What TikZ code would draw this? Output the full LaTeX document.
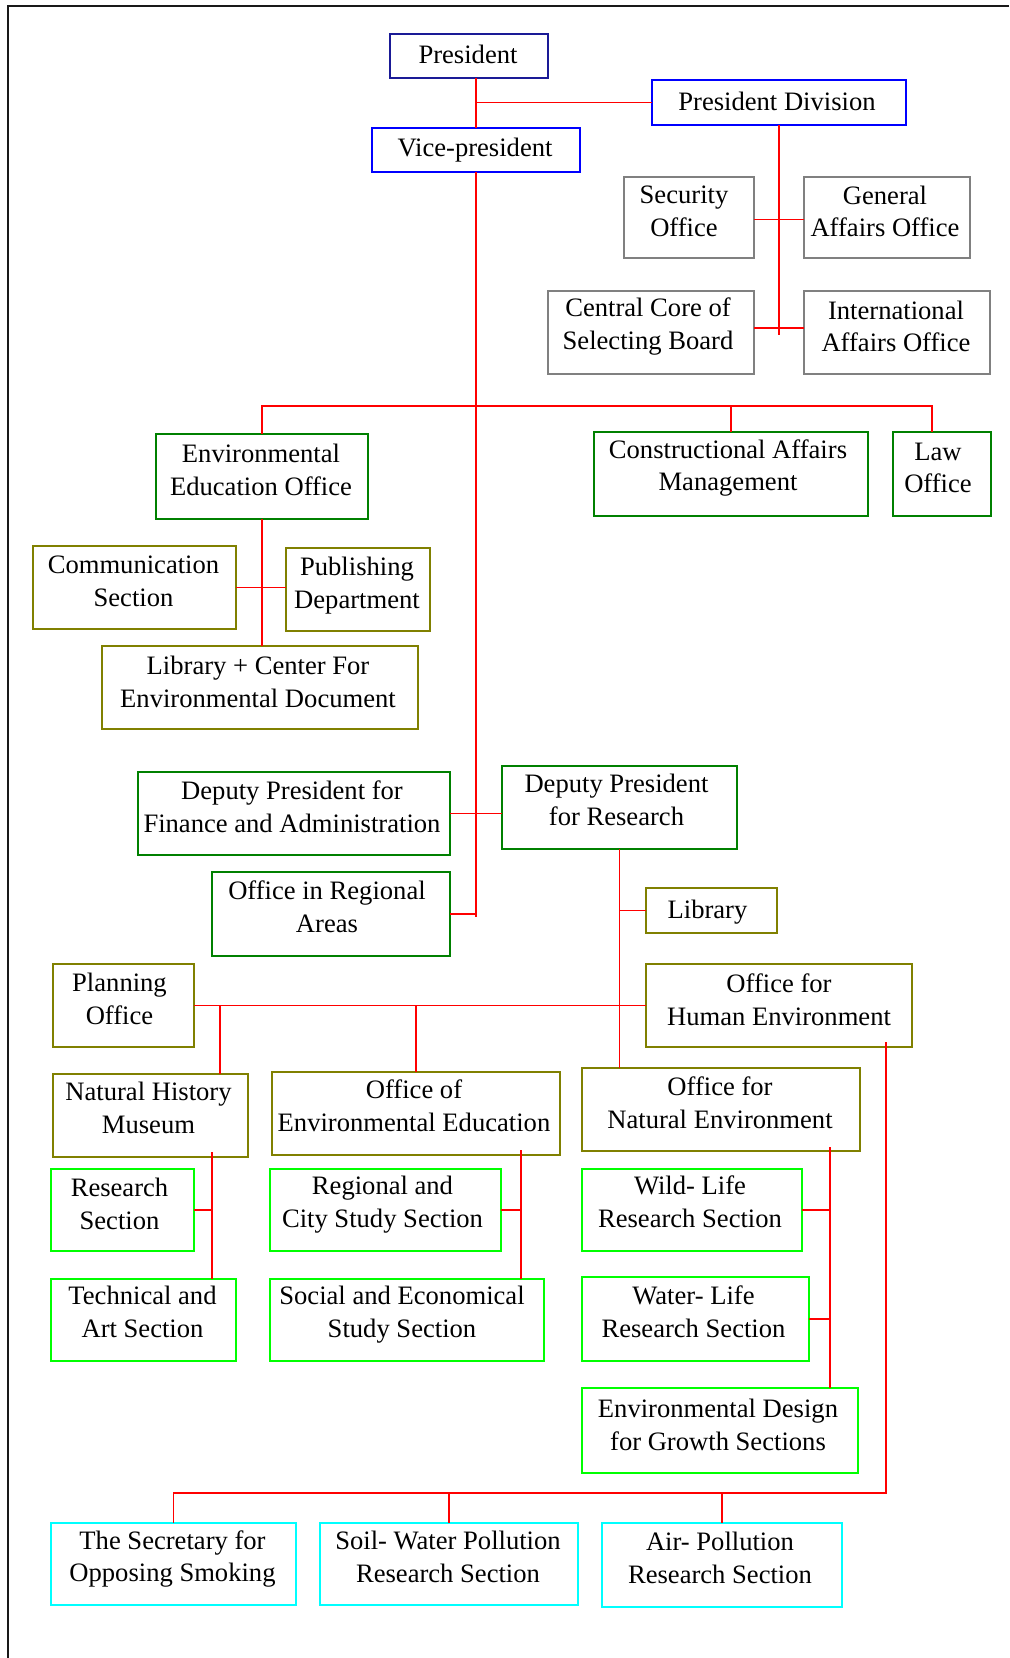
\documentclass[tikz,border=0pt]{standalone}
\usepackage{fontspec}
\setmainfont{Liberation Serif}
\definecolor{navyb}{RGB}{26,26,150}
\definecolor{blueb}{RGB}{0,0,255}
\definecolor{grayb}{RGB}{128,128,128}
\definecolor{dgreen}{RGB}{0,128,0}
\definecolor{oliveb}{RGB}{128,128,0}
\definecolor{lgreen}{RGB}{0,255,0}
\definecolor{cyanb}{RGB}{0,255,255}
\tikzset{
  boxbase/.style={rectangle, inner sep=0pt, outer sep=0pt, line width=1pt},
  navybox/.style={boxbase, draw=navyb},
  bluebox/.style={boxbase, draw=blueb},
  graybox/.style={boxbase, draw=grayb},
  dgbox/.style={boxbase, draw=dgreen},
  olbox/.style={boxbase, draw=oliveb},
  lgbox/.style={boxbase, draw=lgreen},
  cybox/.style={boxbase, draw=cyanb},
  txt/.style={inner sep=0pt, align=center, font=\fontsize{13.3}{16.4}\selectfont},
  conn/.style={draw=red, line width=0.9pt},
  frameline/.style={draw=black!90, line width=1pt}
}
\newcommand\obox[8][xshift=-1.5pt,yshift=3pt]{%
  \node[#3, minimum width={(#6-#4)*0.5pt}, minimum height={(#7-#5)*0.5pt}] (#2) at ({(#4+#6)/2},{(#5+#7)/2}) {};
  \node[txt] (#2-t) at ([#1]#2.center) {#8};
}
\begin{document}
\begin{tikzpicture}[x=0.5pt,y=-0.5pt]
\useasboundingbox (0,0) rectangle (1009,1658);
\draw[frameline] (1009,6) -- (8,6) -- (8,1658);

\obox[xshift=-0.5pt,yshift=1pt]{Pres}{navybox}{390}{34}{548}{78}{President}
\obox[xshift=-1pt,yshift=0.5pt]{PD}{bluebox}{652}{80}{906}{125}{President Division}
\obox[xshift=-0.5pt,yshift=0pt]{VP}{bluebox}{372}{128}{580}{172}{Vice-president}
\obox[xshift=-2.5pt,yshift=3pt]{Sec}{graybox}{624}{177}{754}{258}{Security\\Office}
\obox[xshift=-1pt,yshift=3pt]{Gen}{graybox}{804}{177}{970}{258}{General\\Affairs Office}
\obox[xshift=-1.5pt,yshift=3pt]{Cen}{graybox}{548}{291}{754}{374}{Central Core of\\Selecting Board}
\obox[xshift=-0.5pt,yshift=3pt]{Int}{graybox}{804}{291}{990}{374}{International\\Affairs Office}
\obox[xshift=-0.5pt,yshift=3.5pt]{EEO}{dgbox}{156}{434}{368}{519}{Environmental\\Education Office}
\obox{Con}{dgbox}{594}{432}{868}{516}{Constructional Affairs\\Management}
\obox[xshift=-2pt,yshift=3pt]{Law}{dgbox}{893}{432}{991}{516}{Law\\Office}
\obox[xshift=-0.5pt,yshift=3pt]{Comm}{olbox}{33}{546}{236}{629}{Communication\\Section}
\obox[xshift=-0.5pt,yshift=2pt]{Pub}{olbox}{286}{548}{430}{631}{Publishing\\Department}
\obox[xshift=-1pt,yshift=3pt]{LibC}{olbox}{102}{646}{418}{729}{Library + Center For\\Environmental Document}
\obox[xshift=-1pt,yshift=3.5pt]{DPF}{dgbox}{138}{772}{450}{855}{Deputy President for\\Finance and Administration}
\obox[xshift=-1.5pt,yshift=4pt]{DPR}{dgbox}{502}{766}{737}{849}{Deputy President\\for Research}
\obox[xshift=-2pt,yshift=3.5pt]{ORA}{dgbox}{212}{872}{450}{956}{Office in Regional\\Areas}
\obox[xshift=-2pt,yshift=-1pt]{Lib}{olbox}{646}{888}{777}{933}{Library}
\obox[xshift=-2pt,yshift=3.5pt]{Plan}{olbox}{53}{964}{194}{1047}{Planning\\Office}
\obox[xshift=0pt,yshift=3pt]{OHE}{olbox}{646}{964}{912}{1047}{Office for\\Human Environment}
\obox[xshift=-1pt,yshift=4pt]{NHM}{olbox}{53}{1074}{248}{1157}{Natural History\\Museum}
\obox[xshift=-1pt,yshift=4pt]{OEE}{olbox}{272}{1072}{560}{1155}{Office of\\Environmental Education}
\obox[xshift=-0.5pt,yshift=3.5pt]{ONE}{olbox}{582}{1068}{860}{1151}{Office for\\Natural Environment}
\obox[xshift=-1.5pt,yshift=3pt]{Res}{lgbox}{51}{1169}{194}{1251}{Research\\Section}
\obox[xshift=-0.5pt,yshift=4pt]{Tech}{lgbox}{51}{1279}{236}{1361}{Technical and\\Art Section}
\obox[xshift=-1.5pt,yshift=2.5pt]{Reg}{lgbox}{270}{1169}{501}{1251}{Regional and\\City Study Section}
\obox[xshift=-2.5pt,yshift=2.5pt]{Soc}{lgbox}{270}{1279}{544}{1361}{Social and Economical\\Study Section}
\obox[xshift=-1pt,yshift=4pt]{Wild}{lgbox}{582}{1169}{802}{1251}{Wild- Life\\Research Section}
\obox[xshift=-1pt,yshift=3.5pt]{Water}{lgbox}{582}{1277}{809}{1361}{Water- Life\\Research Section}
\obox[xshift=-1pt,yshift=3pt]{EDG}{lgbox}{582}{1388}{858}{1473}{Environmental Design\\for Growth Sections}
\obox[xshift=-0.5pt,yshift=2.5pt]{Smk}{cybox}{51}{1523}{296}{1605}{The Secretary for\\Opposing Smoking}
\obox[xshift=-0.5pt,yshift=3.5pt]{Soil}{cybox}{320}{1523}{578}{1605}{Soil- Water Pollution\\Research Section}
\obox[xshift=-1pt,yshift=3.5pt]{Air}{cybox}{602}{1523}{842}{1607}{Air- Pollution\\Research Section}

% connectors
\coordinate (pdE) at (779,335);
\coordinate (vpE) at (476,917);
\coordinate (h1) at (476,406);
\coordinate (nhmT) at (220,1074);
\coordinate (nhmB) at (212,1152);
\coordinate (oeeB) at (521,1150);
\coordinate (oneB) at (830,1147);
\coordinate (ohB) at (886,1042);
\coordinate (h3) at (886,1493);

\draw[conn] (VP.north |- Pres.south) -- (VP.north);
\draw[conn] (PD.west) -- (PD.west -| VP.north);
\draw[conn] (PD.south) -- (pdE);
\draw[conn] ([yshift=-1pt]Sec.east) -- ([yshift=-1pt]Gen.west);
\draw[conn] ([yshift=2.25pt]Cen.east) -- ([yshift=2.25pt]Int.west);
\draw[conn] (VP.south) -- (vpE);
\draw[conn] (EEO.north) |- (h1) -| ([xshift=-5pt]Law.north);
\draw[conn] (Con.north) -- (Con.north |- h1);
\draw[conn] (EEO.south) -- (EEO.south |- LibC.north);
\draw[conn] (Comm.east) -- (Comm.east -| Pub.west);
\draw[conn] (DPF.east) -- (DPF.east -| DPR.west);
\draw[conn] (ORA.east) -- (ORA.east -| vpE);
\draw[conn] (DPR.south) -- (DPR.south |- ONE.north);
\draw[conn] (Lib.west) -- (Lib.west -| DPR.south);
\draw[conn] (Plan.east) -- (OHE.west);
\draw[conn] (nhmT) -- (nhmT |- Plan.east);
\draw[conn] (OEE.north) -- (OEE.north |- Plan.east);
\draw[conn] (nhmB) -- (nhmB |- Tech.north);
\draw[conn] (Res.east) -- (Res.east -| nhmB);
\draw[conn] (oeeB) -- (oeeB |- Soc.north);
\draw[conn] (Reg.east) -- (Reg.east -| oeeB);
\draw[conn] (oneB) -- (oneB |- EDG.north);
\draw[conn] (Wild.east) -- (Wild.east -| oneB);
\draw[conn] (Water.east) -- (Water.east -| oneB);
\draw[conn] (ohB) -- (h3) -| (Smk.north);
\draw[conn] (Soil.north) -- (Soil.north |- h3);
\draw[conn] (Air.north) -- (Air.north |- h3);
\end{tikzpicture}
\end{document}
